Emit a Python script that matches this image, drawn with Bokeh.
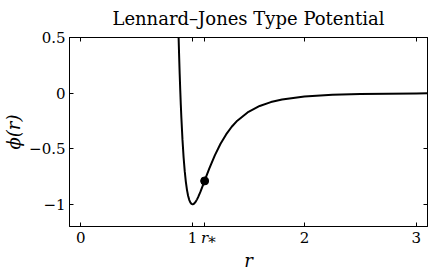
from bokeh.plotting import figure
from bokeh.models import Range1d, LinearAxis, FixedTicker
from bokeh.embed import file_html
from bokeh.resources import INLINE

# curve
r_vals = [0.870, 0.875, 0.880, 0.885, 0.890, 0.895, 0.900, 0.910, 0.920, 0.930,
          0.940, 0.950, 0.960, 0.970, 0.980, 0.990, 1.000, 1.010, 1.020, 1.030,
          1.040, 1.050, 1.070, 1.100, 1.125, 1.150, 1.200, 1.250, 1.300, 1.350,
          1.400, 1.500, 1.600, 1.700, 1.800, 2.000, 2.250, 2.500, 2.750, 3.000, 3.100]
phi_vals = [0.706, 0.509, 0.330, 0.170, 0.025, -0.106, -0.222, -0.421, -0.579, -0.702,
            -0.798, -0.870, -0.923, -0.960, -0.983, -0.996, -1.000, -0.997, -0.987, -0.974,
            -0.956, -0.936, -0.889, -0.810, -0.743, -0.678, -0.558, -0.456, -0.372, -0.303,
            -0.248, -0.168, -0.116, -0.081, -0.058, -0.031, -0.015, -0.008, -0.005, -0.003, -0.002]

r_star = [1.108]
phi_star = [-0.79]

x_ticks = [0, 1, 1.108, 2, 3]
x_tick_labels = ["0", "1", "\u2002\U0001D45F\u204E", "2", "3"]
y_ticks = [-1, -0.5, 0, 0.5]
y_tick_labels = ["\u22121", "\u22120.5", "0", "0.5"]

FONT = "DejaVu Serif"

p = figure(width=435, height=273, x_range=Range1d(-0.1, 3.1), y_range=Range1d(-1.2, 0.5),
           output_backend="svg", toolbar_location=None,
           min_border_left=69, min_border_right=8, min_border_bottom=46, min_border_top=37,
           title="Lennard\u2013Jones Type Potential")
p.title.text_font = FONT
p.title.text_font_size = "18px"
p.title.text_font_style = "normal"
p.title.text_color = "black"
p.title.align = "center"
p.title.vertical_align = "top"
p.title.standoff = 14

p.grid.visible = False
p.outline_line_color = "black"
p.outline_line_width = 1
p.background_fill_color = "white"
p.border_fill_color = "white"

top_axis = LinearAxis()
right_axis = LinearAxis()
p.add_layout(top_axis, "above")
p.add_layout(right_axis, "right")

for ax in p.xaxis:
    ax.ticker = FixedTicker(ticks=x_ticks)
    ax.major_label_overrides = {t: l for t, l in zip(x_ticks, x_tick_labels)}
for ax in p.yaxis:
    ax.ticker = FixedTicker(ticks=y_ticks)
    ax.major_label_overrides = {t: l for t, l in zip(y_ticks, y_tick_labels)}

for ax in p.axis:
    ax.axis_line_color = "black"
    ax.major_tick_in = 4
    ax.major_tick_out = 0
    ax.minor_tick_line_color = None
    ax.major_tick_line_color = "black"
    ax.major_label_text_font = FONT
    ax.major_label_text_font_size = "15px"
    ax.major_label_text_color = "black"
    ax.axis_label_text_font = FONT
    ax.axis_label_text_font_size = "18px"
    ax.axis_label_text_font_style = "italic"
    ax.axis_label_text_color = "black"

top_axis.major_label_overrides = {t: "" for t in x_ticks}
right_axis.major_label_overrides = {t: "" for t in y_ticks}
top_axis.major_label_standoff = 0
right_axis.major_label_standoff = 0

bottom = p.below[0]
left = p.left[0]
bottom.axis_label = "r"
bottom.major_label_standoff = 2
bottom.axis_label_standoff = 0
left.axis_label = "\u03d5(r)"
left.major_label_standoff = 4
left.axis_label_standoff = 2

p.line(r_vals, phi_vals, line_color="black", line_width=2)
p.scatter(r_star, phi_star, size=8, color="black")

open("out.html", "w").write(file_html(p, INLINE))
